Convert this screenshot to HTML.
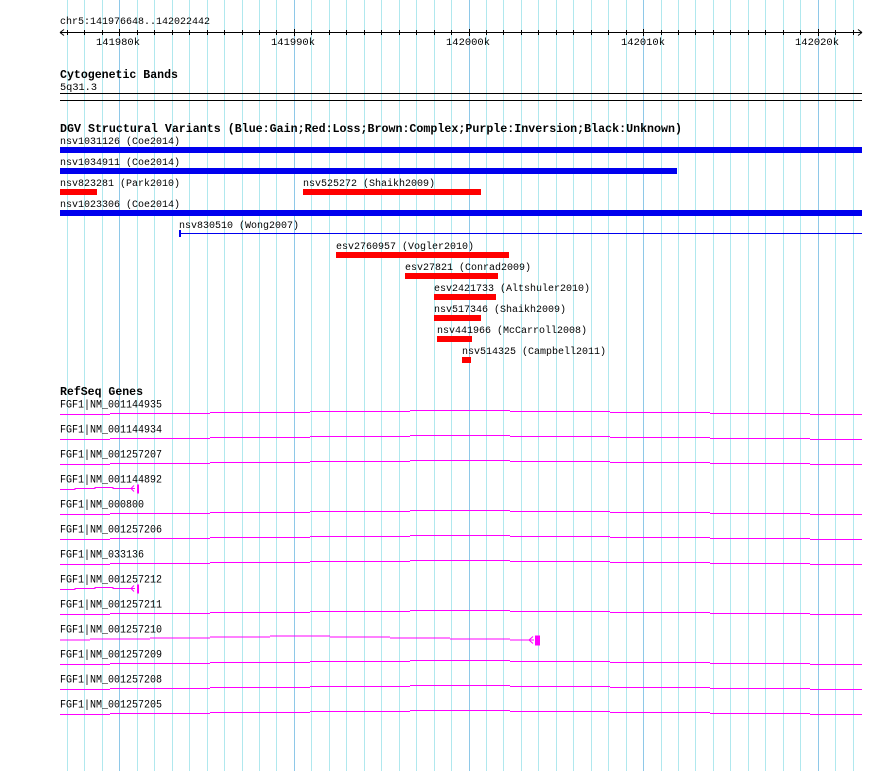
<!DOCTYPE html>
<html><head><meta charset="utf-8"><style>
html,body{margin:0;padding:0;background:#fff;}
svg{display:block;}
text{font-family:"Liberation Mono","DejaVu Sans Mono",monospace;fill:#000;}
.b{font-weight:bold;font-size:12px;}
.s{font-size:10px;}
.g{font-size:11px;}
</style></head><body>
<svg width="890" height="771" viewBox="0 0 890 771" xmlns="http://www.w3.org/2000/svg">
<rect width="890" height="771" fill="#fff"/>
<g id="grid" stroke-width="1"></g>
<text x="60" y="24" class="s" textLength="150" lengthAdjust="spacingAndGlyphs">chr5:141976648..142022442</text>
<line x1="60" y1="32.5" x2="862" y2="32.5" stroke="#000"/>
<path d="M60 32.5 l4 -3 M60 32.5 l4 3 M862 32.5 l-4 -3 M862 32.5 l-4 3" stroke="#000" fill="none"/>
<g id="ticks" stroke="#000"></g>
<text x="96" y="45" class="s" textLength="44" lengthAdjust="spacingAndGlyphs">141980k</text>
<text x="271" y="45" class="s" textLength="44" lengthAdjust="spacingAndGlyphs">141990k</text>
<text x="446" y="45" class="s" textLength="44" lengthAdjust="spacingAndGlyphs">142000k</text>
<text x="621" y="45" class="s" textLength="44" lengthAdjust="spacingAndGlyphs">142010k</text>
<text x="795" y="45" class="s" textLength="44" lengthAdjust="spacingAndGlyphs">142020k</text>
<text x="60" y="78" class="b" textLength="118" lengthAdjust="spacingAndGlyphs">Cytogenetic Bands</text>
<text x="60" y="90" class="s" textLength="37" lengthAdjust="spacingAndGlyphs">5q31.3</text>
<line x1="60" y1="93.5" x2="862" y2="93.5" stroke="#000"/>
<line x1="60" y1="100.5" x2="862" y2="100.5" stroke="#000"/>
<text x="60" y="132" class="b" textLength="622" lengthAdjust="spacingAndGlyphs">DGV Structural Variants (Blue:Gain;Red:Loss;Brown:Complex;Purple:Inversion;Black:Unknown)</text>
<g class="s">
<text x="60" y="144" textLength="120" lengthAdjust="spacingAndGlyphs">nsv1031126 (Coe2014)</text>
<text x="60" y="165" textLength="120" lengthAdjust="spacingAndGlyphs">nsv1034911 (Coe2014)</text>
<text x="60" y="186" textLength="120" lengthAdjust="spacingAndGlyphs">nsv823281 (Park2010)</text>
<text x="303" y="186" textLength="132" lengthAdjust="spacingAndGlyphs">nsv525272 (Shaikh2009)</text>
<text x="60" y="207" textLength="120" lengthAdjust="spacingAndGlyphs">nsv1023306 (Coe2014)</text>
<text x="179" y="228" textLength="120" lengthAdjust="spacingAndGlyphs">nsv830510 (Wong2007)</text>
<text x="336" y="249" textLength="138" lengthAdjust="spacingAndGlyphs">esv2760957 (Vogler2010)</text>
<text x="405" y="270" textLength="126" lengthAdjust="spacingAndGlyphs">esv27821 (Conrad2009)</text>
<text x="434" y="291" textLength="156" lengthAdjust="spacingAndGlyphs">esv2421733 (Altshuler2010)</text>
<text x="434" y="312" textLength="132" lengthAdjust="spacingAndGlyphs">nsv517346 (Shaikh2009)</text>
<text x="437" y="333" textLength="150" lengthAdjust="spacingAndGlyphs">nsv441966 (McCarroll2008)</text>
<text x="462" y="354" textLength="144" lengthAdjust="spacingAndGlyphs">nsv514325 (Campbell2011)</text>
</g>
<g fill="#0000ee">
<rect x="60" y="147" width="802" height="6"/>
<rect x="60" y="168" width="617" height="6"/>
<rect x="60" y="210" width="802" height="6"/>
<rect x="179" y="230" width="2" height="7"/>
<rect x="179" y="233" width="683" height="1"/>
</g>
<g fill="#ff0000">
<rect x="60" y="189" width="37" height="6"/>
<rect x="303" y="189" width="178" height="6"/>
<rect x="336" y="252" width="173" height="6"/>
<rect x="405" y="273" width="93" height="6"/>
<rect x="434" y="294" width="62" height="6"/>
<rect x="434" y="315" width="47" height="6"/>
<rect x="437" y="336" width="35" height="6"/>
<rect x="462" y="357" width="9" height="6"/>
</g>
<text x="60" y="395" class="b" textLength="83" lengthAdjust="spacingAndGlyphs">RefSeq Genes</text>
<g id="genes"></g>
</svg>
<script>
var ns="http://www.w3.org/2000/svg";
function el(p,t,a){var e=document.createElementNS(ns,t);for(var k in a)e.setAttribute(k,a[k]);p.appendChild(e);return e;}
var grid=document.getElementById('grid');
var step=17.46, major=119.3;
for(var k=-3;k<=42;k++){var x=Math.round(major+k*step)+0.5;if(x>862)break;
 var isM=(k%10==0);
 el(grid,'line',{x1:x,y1:0,x2:x,y2:771,stroke:isM?'#8ec8e8':'#b0e8ee'});}
var tk=document.getElementById('ticks');
for(var k=-3;k<=42;k++){var x=Math.round(major+k*step)+0.5;if(x>858)break;
 var isM=(k%10==0);
 el(tk,'line',{x1:x,y1:isM?29:30,x2:x,y2:isM?36:35});}
var g=document.getElementById('genes');
var names=["NM_001144935","NM_001144934","NM_001257207","NM_001144892","NM_000800","NM_001257206","NM_033136","NM_001257212","NM_001257211","NM_001257210","NM_001257209","NM_001257208","NM_001257205"];
var segs=[[60,110,4],[110,210,3],[210,310,2],[310,410,1],[410,510,0],[510,610,1],[610,710,2],[710,810,3],[810,862,4]];
for(var i=0;i<names.length;i++){
 var cy=403.5+25*i;
 var t=el(g,'text',{x:60,y:cy+4,'class':'g',textLength:(names[i].length+5)*6,lengthAdjust:'spacingAndGlyphs'});
 t.textContent="FGF1|"+names[i];
 var base=cy+6.5;
 if(names[i]=="NM_001144892"||names[i]=="NM_001257212"){
  var y=cy+10;
  el(g,'path',{d:"M60 "+(y+1)+" L75 "+(y+1)+" L75 "+y+" L95 "+y+" L95 "+(y-1)+" L113 "+(y-1)+" L113 "+y+" L135 "+y,stroke:'#ff00ff','stroke-width':1,fill:'none'});
  el(g,'path',{d:"M134 "+(y-3)+" L131 "+y+" L134 "+(y+3),stroke:'#ff00ff',fill:'none'});
  el(g,'rect',{x:137,y:y-4,width:2,height:9,fill:'#ff00ff'});
 } else if(names[i]=="NM_001257210"){
  var y=cy+8;
  var s2=[[60,90,3],[90,150,2],[150,210,1],[210,270,0],[270,330,-1],[330,390,0],[390,450,1],[450,510,2],[510,534,3]];
  s2.forEach(function(s){el(g,'line',{x1:s[0],x2:s[1],y1:y+s[2]+0.5,y2:y+s[2]+0.5,stroke:'#ff00ff'});});
  el(g,'path',{d:"M533 "+(y)+" L529 "+(y+3.5)+" L533 "+(y+7),stroke:'#ff00ff',fill:'none'});
  el(g,'rect',{x:535,y:y-1,width:5,height:10,fill:'#ff00ff'});
 } else {
  segs.forEach(function(s){el(g,'line',{x1:s[0],x2:s[1],y1:base+s[2]+0.5,y2:base+s[2]+0.5,stroke:'#ff00ff'});});
 }
}
</script>
</body></html>
